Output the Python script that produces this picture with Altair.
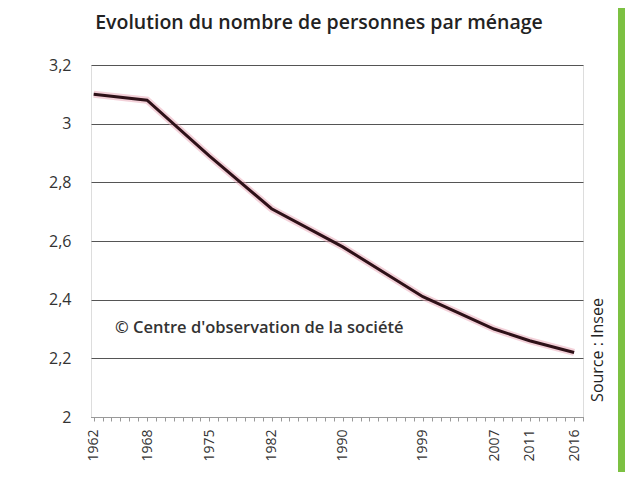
import altair as alt
import pandas as pd

years = [1962, 1968, 1975, 1982, 1990, 1999, 2007, 2011, 2016]
persons = [3.10, 3.08, 2.89, 2.71, 2.58, 2.41, 2.30, 2.26, 2.22]
tick_years = list(range(1962, 2018))
y_ticks = [2.0, 2.2, 2.4, 2.6, 2.8, 3.0, 3.2]

df = pd.DataFrame({"annee": years, "pers": persons})

FONT = "Open Sans"
W, H = 492, 352

label_list = "[" + ",".join(str(y) for y in years) + "]"

x_enc = alt.X(
    "annee:Q",
    scale=alt.Scale(domain=[1961.7, 2017.0], nice=False, zero=False),
    axis=alt.Axis(
        values=tick_years,
        labelExpr=f"indexof({label_list}, datum.value) >= 0 ? datum.value : ''",
        format="d",
        labelAngle=270,
        labelAlign="right",
        labelBaseline="middle",
        labelFontSize=14,
        labelColor="#333333",
        labelFont=FONT,
        labelPadding=8,
        tickSize=4,
        tickColor="#999999",
        domainColor="#999999",
        grid=False,
        title=None,
        labelOverlap=False,
    ),
)
y_enc = alt.Y(
    "pers:Q",
    scale=alt.Scale(domain=[2.0, 3.2], nice=False, zero=False),
    axis=alt.Axis(
        values=y_ticks,
        labelExpr="replace(format(datum.value, '.1~f'), '.', ',')",
        labelFontSize=16,
        labelColor="#333333",
        labelFont=FONT,
        labelPadding=20,
        domain=False,
        ticks=False,
        grid=True,
        gridColor="#555555",
        gridWidth=1,
        title=None,
    ),
)

base = alt.Chart(df)

shadow = base.mark_line(color="#e7a3b4", strokeWidth=7, opacity=0.5).encode(x=x_enc, y=y_enc)
line = base.mark_line(color="#2e1118", strokeWidth=3).encode(x=x_enc, y=y_enc)

title_txt = alt.Chart(pd.DataFrame({"t": ["Evolution du nombre de personnes par ménage"]})).mark_text(
    align="center", baseline="alphabetic", fontSize=19.5, fontWeight=600, font=FONT, color="#222222"
).encode(x=alt.value(228), y=alt.value(-36), text="t:N")

copyright_txt = alt.Chart(pd.DataFrame({"t": ["© Centre d'observation de la société"]})).mark_text(
    align="left", baseline="alphabetic", fontSize=16.5, fontWeight=600, font=FONT, color="#333333"
).encode(x=alt.value(24), y=alt.value(268), text="t:N")

source_txt = alt.Chart(pd.DataFrame({"t": ["Source : Insee"]})).mark_text(
    align="center", baseline="middle", fontSize=16, font=FONT, color="#222222", angle=270
).encode(x=alt.value(507), y=alt.value(285), text="t:N")

green_bar = alt.Chart(pd.DataFrame({"a": [0]})).mark_rect(color="#7cc142").encode(
    x=alt.value(527), x2=alt.value(534), y=alt.value(-70), y2=alt.value(430)
)

chart = alt.layer(shadow, line, title_txt, copyright_txt, source_txt, green_bar).properties(
    width=W,
    height=H,
    autosize=alt.AutoSizeParams(type="none"),
    padding={"left": 83, "top": 57, "right": 42, "bottom": 55},
).configure_view(stroke=None).configure(background="white")

chart.save("out.html", embed_options={"renderer": "svg", "actions": False})
